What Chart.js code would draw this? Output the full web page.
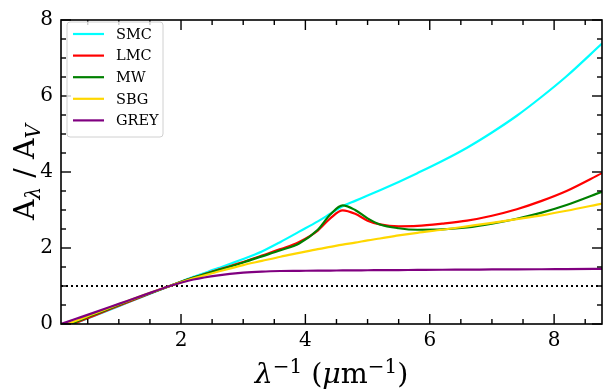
<!DOCTYPE html>
<html><head><meta charset="utf-8">
<script src="https://cdn.jsdelivr.net/npm/chart.js@4/dist/chart.umd.min.js"></script>
<style>html,body{margin:0;padding:0;background:#fff;}canvas{display:block;}</style>
</head><body>
<canvas id="c" width="604" height="392"></canvas>
<script>
// ---- data ----
const xGrid = [0.07, 0.3, 0.6, 1.0, 1.4, 1.82, 2.2, 2.6, 3.0, 3.3, 3.6, 3.9, 4.2, 4.4, 4.6, 4.8, 5.0, 5.2, 5.5, 5.8, 6.2, 6.6, 7.0, 7.4, 7.8, 8.2, 8.77];
const smc  = [-0.13, 0.02, 0.21, 0.47, 0.73, 1.0, 1.24, 1.47, 1.71, 1.91, 2.16, 2.43, 2.70, 2.90, 3.10, 3.24, 3.38, 3.52, 3.74, 3.97, 4.29, 4.64, 5.04, 5.48, 5.98, 6.52, 7.38];
const lmc  = [-0.12, 0.03, 0.22, 0.48, 0.74, 1.0, 1.22, 1.43, 1.63, 1.80, 1.97, 2.16, 2.46, 2.78, 2.99, 2.90, 2.72, 2.62, 2.57, 2.58, 2.64, 2.72, 2.85, 3.02, 3.24, 3.50, 3.97];
const mw   = [-0.08, 0.05, 0.25, 0.50, 0.75, 1.0, 1.22, 1.42, 1.62, 1.78, 1.94, 2.12, 2.48, 2.88, 3.12, 3.00, 2.78, 2.62, 2.52, 2.48, 2.49, 2.54, 2.64, 2.77, 2.93, 3.13, 3.48];
const sbg  = [-0.05, 0.08, 0.27, 0.52, 0.76, 1.0, 1.20, 1.38, 1.55, 1.66, 1.77, 1.87, 1.97, 2.03, 2.09, 2.14, 2.20, 2.25, 2.33, 2.40, 2.48, 2.57, 2.66, 2.76, 2.86, 2.98, 3.17];
const grey = [0.0, 0.13, 0.30, 0.53, 0.76, 1.0, 1.17, 1.28, 1.35, 1.38, 1.395, 1.40, 1.405, 1.407, 1.41, 1.412, 1.415, 1.417, 1.42, 1.423, 1.427, 1.43, 1.435, 1.438, 1.441, 1.445, 1.45];
const seriesNames  = ['SMC', 'LMC', 'MW', 'SBG', 'GREY'];
const seriesColors = ['#00ffff', '#ff0000', '#008000', '#ffd700', '#800080'];
const seriesValues = [smc, lmc, mw, sbg, grey];
const xTicks = [2, 4, 6, 8];
const yTicks = [0, 2, 4, 6, 8];
const xRange = [0.07, 8.77];
const yRange = [0, 8];
const refLevel = [1, 1];

const FONT = '"DejaVu Serif", "Liberation Serif", serif';

const datasets = seriesNames.map((name, i) => ({
  label: name,
  data: xGrid.map((x, j) => ({x: x, y: seriesValues[i][j]})),
  borderColor: seriesColors[i],
  backgroundColor: seriesColors[i],
  borderWidth: 2.2,
  pointRadius: 0,
  cubicInterpolationMode: 'monotone',
  fill: false,
  order: seriesNames.length - i
}));
datasets.push({
  label: '_ref',
  data: xRange.map((x, j) => ({x: x, y: refLevel[j]})),
  borderColor: '#000',
  borderWidth: 1.8,
  borderDash: [2, 3],
  pointRadius: 0,
  fill: false,
  order: 10
});

function drawRich(ctx, segs, x, y, rot) {
  ctx.save();
  ctx.translate(x, y);
  if (rot) ctx.rotate(-Math.PI / 2);
  ctx.fillStyle = '#000';
  ctx.textBaseline = 'alphabetic';
  ctx.textAlign = 'left';
  let total = 0;
  const ws = segs.map(s => { ctx.font = (s.it ? 'italic ' : '') + s.size + 'px ' + FONT; const w = ctx.measureText(s.t).width; total += w; return w; });
  let cx = -total / 2;
  segs.forEach((s, i) => { ctx.font = (s.it ? 'italic ' : '') + s.size + 'px ' + FONT; ctx.fillText(s.t, cx, s.dy || 0); cx += ws[i]; });
  ctx.restore();
}

const decor = {
  id: 'decor',
  afterDatasetsDraw(chart) {
    const {ctx, chartArea: a, scales: {x, y}} = chart;
    ctx.save();
    ctx.strokeStyle = '#000';
    ctx.lineWidth = 1.6;
    ctx.strokeRect(a.left, a.top, a.right - a.left, a.bottom - a.top);
    ctx.lineWidth = 1.4;
    const line = (x1, y1, x2, y2) => { ctx.beginPath(); ctx.moveTo(x1, y1); ctx.lineTo(x2, y2); ctx.stroke(); };
    for (let k = 1; k * 0.5 < xRange[1]; k++) {
      const v = k * 0.5; if (v < xRange[0]) continue;
      const px = x.getPixelForValue(v);
      const L = xTicks.includes(v) ? 10 : 5;
      line(px, a.bottom, px, a.bottom - L);
      line(px, a.top, px, a.top + L);
    }
    for (let k = 0; k * 0.5 <= yRange[1]; k++) {
      const v = k * 0.5;
      const py = y.getPixelForValue(v);
      const L = yTicks.includes(v) ? 10 : 5;
      line(a.left, py, a.left + L, py);
      line(a.right, py, a.right - L, py);
    }
    ctx.restore();
  },
  afterDraw(chart) {
    const {ctx, chartArea: a} = chart;
    // legend
    ctx.save();
    const bx = 67, by = 22, bw = 96, bh = 115, r = 3;
    ctx.beginPath();
    ctx.moveTo(bx + r, by); ctx.lineTo(bx + bw - r, by); ctx.quadraticCurveTo(bx + bw, by, bx + bw, by + r);
    ctx.lineTo(bx + bw, by + bh - r); ctx.quadraticCurveTo(bx + bw, by + bh, bx + bw - r, by + bh);
    ctx.lineTo(bx + r, by + bh); ctx.quadraticCurveTo(bx, by + bh, bx, by + bh - r);
    ctx.lineTo(bx, by + r); ctx.quadraticCurveTo(bx, by, bx + r, by);
    ctx.closePath();
    ctx.fillStyle = 'rgba(255,255,255,0.8)'; ctx.fill();
    ctx.strokeStyle = '#d0d0d0'; ctx.lineWidth = 1; ctx.stroke();
    seriesNames.forEach((n, i) => {
      const yy = 34 + i * 21.6;
      ctx.strokeStyle = seriesColors[i]; ctx.lineWidth = 2.2;
      ctx.beginPath(); ctx.moveTo(73, yy); ctx.lineTo(104, yy); ctx.stroke();
      ctx.fillStyle = '#000'; ctx.font = '14.5px ' + FONT; ctx.textBaseline = 'middle'; ctx.textAlign = 'left';
      ctx.fillText(n, 116, yy + 1);
    });
    ctx.restore();
    // axis titles
    const F = 28.5;
    drawRich(ctx, [
      {t: 'λ', size: F, it: true},
      {t: '\u22121', size: F * 0.7, dy: -F * 0.36},
      {t: ' (', size: F},
      {t: 'μ', size: F, it: true},
      {t: 'm', size: F},
      {t: '\u22121', size: F * 0.7, dy: -F * 0.36},
      {t: ')', size: F}
    ], (a.left + a.right) / 2, 383, false);
    drawRich(ctx, [
      {t: 'A', size: F},
      {t: 'λ', size: F * 0.7, it: true, dy: F * 0.22},
      {t: ' / A', size: F},
      {t: 'V', size: F * 0.7, it: true, dy: F * 0.22}
    ], 34, (a.top + a.bottom) / 2, true);
  }
};

new Chart(document.getElementById('c'), {
  type: 'line',
  data: {datasets: datasets},
  options: {
    responsive: false,
    devicePixelRatio: 1,
    animation: false,
    layout: {padding: {top: 14, right: 2, left: 0, bottom: 0}},
    plugins: {legend: {display: false}, tooltip: {enabled: false}},
    scales: {
      x: {
        type: 'linear', min: xRange[0], max: xRange[1],
        afterBuildTicks: s => { s.ticks = xTicks.map(v => ({value: v})); },
        afterFit: s => { s.height = 68; },
        grid: {display: false, drawTicks: false},
        border: {display: false},
        ticks: {color: '#000', font: {family: FONT, size: 20}, padding: 5, maxRotation: 0}
      },
      y: {
        type: 'linear', min: yRange[0], max: yRange[1],
        afterBuildTicks: s => { s.ticks = yTicks.map(v => ({value: v})); },
        afterFit: s => { s.width = 61; },
        grid: {display: false, drawTicks: false},
        border: {display: false},
        ticks: {color: '#000', font: {family: FONT, size: 20}, padding: 8}
      }
    }
  },
  plugins: [decor]
});
</script>
</body></html>
